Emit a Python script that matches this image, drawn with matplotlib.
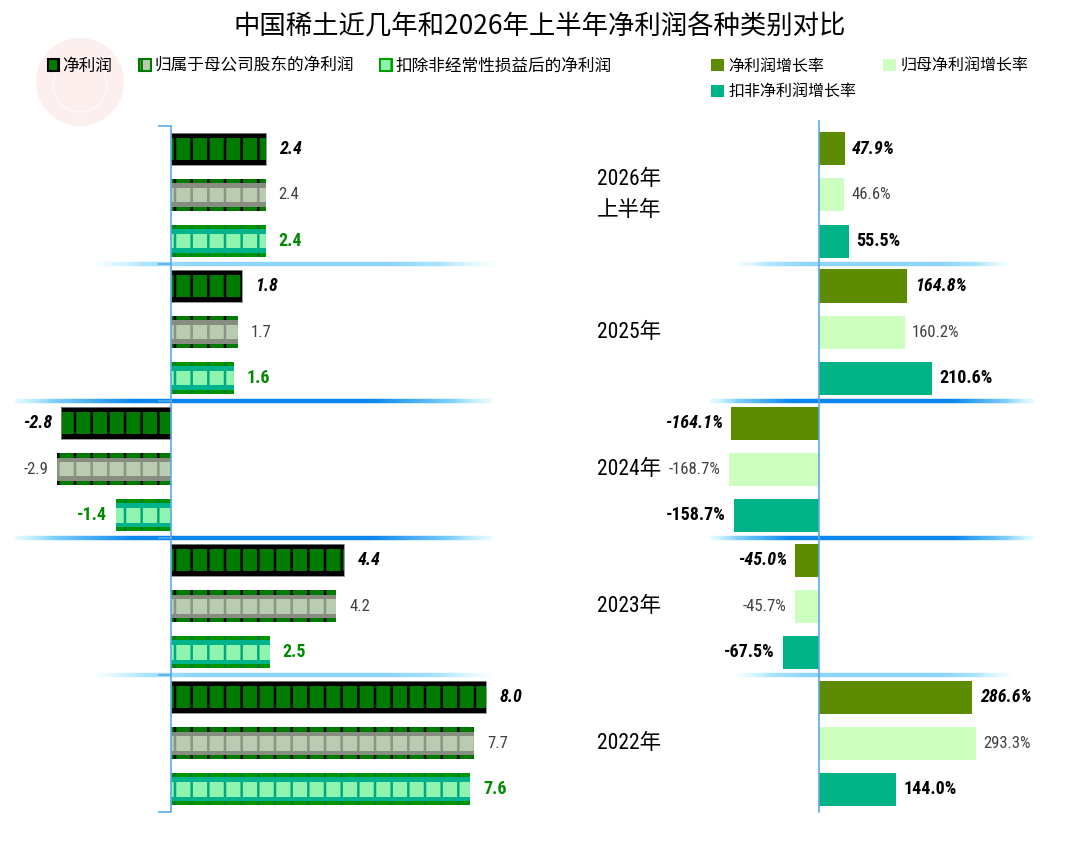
import numpy as np
import matplotlib
matplotlib.use("Agg")
import matplotlib.pyplot as plt
import matplotlib.transforms as mtransforms
from matplotlib import font_manager
from matplotlib.patches import Patch, Ellipse
from matplotlib.collections import LineCollection
from matplotlib.colors import to_rgba

plt.rcParams['font.family'] = ['Noto Sans CJK SC', 'DejaVu Sans']
plt.rcParams['hatch.linewidth'] = 1.8

# data
periods = ['2026年\n上半年', '2025年', '2024年', '2023年', '2022年']
net_profit = [2.4, 1.8, -2.8, 4.4, 8.0]
parent_profit = [2.4, 1.7, -2.9, 4.2, 7.7]
deducted_profit = [2.4, 1.6, -1.4, 2.5, 7.6]
net_growth = [47.9, 164.8, -164.1, -45.0, 286.6]
parent_growth = [46.6, 160.2, -168.7, -45.7, 293.3]
deducted_growth = [55.5, 210.6, -158.7, -67.5, 144.0]

profit_names = ['净利润', '归属于母公司股东的净利润', '扣除非经常性损益后的净利润']
growth_names = ['净利润增长率', '归母净利润增长率', '扣非净利润增长率']
growth_colors = ['#5e8c00', '#ccffc0', '#00b386']

# layered styles for the left bars: (height fraction, face, hatch colour)
layers = [
    [(1.0, '#000000', None), (0.70, '#007a00', '#000000')],
    [(1.0, '#007a00', '#000000'), (0.72, '#868e80', None), (0.46, '#b9cbb1', '#8b9585')],
    [(1.0, '#009400', '#007a30'), (0.74, '#00b38a', None), (0.46, '#8ef4b0', '#00a880')],
]

# pick a condensed font for the numbers if one is installed
installed = {f.name for f in font_manager.fontManager.ttflist}
narrow_font = 'Liberation Sans'
for cand in ['Liberation Sans Narrow', 'DejaVu Sans Condensed', 'Roboto Condensed']:
    if cand in installed:
        narrow_font = cand
        break
narrow = [narrow_font, 'Noto Sans CJK SC', 'DejaVu Sans']
num_size = 13 if 'Narrow' in narrow_font or 'Condensed' in narrow_font else 11

W, H = 1080, 843
fig = plt.figure(figsize=(W / 100, H / 100), dpi=100)

def px_axes(x0, y0, x1, y1):
    return fig.add_axes([x0 / W, 1 - y1 / H, (x1 - x0) / W, (y1 - y0) / H])

# group geometry (in group units)
offsets = [-0.336, 0.0, 0.336]
bar_h = 0.234
ylim = (4.56, -0.547)
pos = np.arange(len(periods))

def grad_line(ax, y, x0, x1, strong):
    xs = np.linspace(x0, x1, 300)
    segs = [[(xs[i], y), (xs[i + 1], y)] for i in range(len(xs) - 1)]
    t = np.linspace(0, 1, len(segs))
    edge = np.clip(np.minimum(t, 1 - t) / 0.25, 0, 1)
    cols = []
    for e in edge:
        if strong:
            c1, c2 = np.array(to_rgba('#b8f4ff')), np.array(to_rgba('#0a86ee'))
            c = c1 + (c2 - c1) * e
            c[3] = 0.35 + 0.65 * min(1, e * 3)
        else:
            c1, c2 = np.array(to_rgba('#c8f6ff')), np.array(to_rgba('#8fd4fb'))
            c = c1 + (c2 - c1) * e
            c[3] = 0.15 + 0.85 * min(1, e * 2)
        cols.append(c)
    ax.add_collection(LineCollection(segs, colors=cols, linewidths=3.2, zorder=1))

def label_style(k, right=False):
    if k == 0:
        return dict(fontweight='bold', fontstyle='italic', color='black', fontsize=num_size)
    if k == 1:
        return dict(color='#404040', fontsize=num_size - 1)
    return dict(fontweight='bold', color='black' if right else '#008a00', fontsize=num_size)

# ---------- left panel: profits ----------
axl = px_axes(15, 120, 560, 820)
kpx = 39.4
axl.set_xlim(-(171 - 15) / kpx, (560 - 171) / kpx)
axl.set_ylim(*ylim)
axl.axis('off')

for k, vals in enumerate([net_profit, parent_profit, deducted_profit]):
    y = pos + offsets[k]
    for frac, face, hc in layers[k]:
        axl.barh(y, vals, height=bar_h * frac, color=face, lw=0, zorder=3)
        if hc:
            axl.barh(y, vals, height=bar_h * frac, facecolor='none', edgecolor=hc,
                     hatch='|', lw=0, zorder=3)
    if k == 0:
        axl.barh(y, vals, height=bar_h, facecolor='none', edgecolor='#888888', lw=0.6, zorder=4)
    for yy, v in zip(y, vals):
        if v >= 0:
            axl.text(v + 0.33, yy, f'{v:.1f}', ha='left', va='center',
                     family=narrow, zorder=5, **label_style(k))
        else:
            axl.text(v - 0.22, yy, f'{v:.1f}', ha='right', va='center',
                     family=narrow, zorder=5, **label_style(k))

axl.plot([0, 0], [-0.5, 4.5], color='#5aaae6', lw=1.2, zorder=6, solid_capstyle='butt')
for b in np.arange(-0.5, 5.0, 1.0):
    axl.plot([-0.3, 0], [b, b], color='#5aaae6', lw=1.2, zorder=6)
for b in [0.5, 3.5]:
    grad_line(axl, b, (95 - 171) / kpx, (490 - 171) / kpx, False)
for b in [1.5, 2.5]:
    grad_line(axl, b, (13 - 171) / kpx, (492 - 171) / kpx, True)

# ---------- right panel: growth rates ----------
axr = px_axes(700, 120, 1040, 820)
kr = 0.535
axr.set_xlim(-(819 - 700) / kr, (1040 - 819) / kr)
axr.set_ylim(*ylim)
axr.axis('off')

for k, vals in enumerate([net_growth, parent_growth, deducted_growth]):
    y = pos + offsets[k]
    axr.barh(y, vals, height=bar_h * 1.03, color=growth_colors[k], lw=0, zorder=3)
    for yy, v in zip(y, vals):
        if v >= 0:
            axr.text(v + 14, yy, f'{v:.1f}%', ha='left', va='center',
                     family=narrow, zorder=5, **label_style(k, True))
        else:
            axr.text(v - 15, yy, f'{v:.1f}%', ha='right', va='center',
                     family=narrow, zorder=5, **label_style(k, True))

axr.plot([0, 0], [-0.54, 4.5], color='#5aaae6', lw=1.2, zorder=6)
for b in [0.5, 3.5]:
    grad_line(axr, b, (737 - 819) / kr, (1010 - 819) / kr, False)
for b in [1.5, 2.5]:
    grad_line(axr, b, (710 - 819) / kr, (1034 - 819) / kr, True)

# period labels
tr = mtransforms.blended_transform_factory(fig.transFigure, axr.transData)
for p, name in zip(pos, periods):
    axr.text(597 / W, p, name, transform=tr, ha='left', va='center', fontsize=15.5,
             family=narrow, linespacing=1.6, clip_on=False)

# watermark circle
fig.patches.append(Ellipse((80 / W, 1 - 82 / H), 88 / W, 88 / H, transform=fig.transFigure,
                           facecolor='#fdefed', edgecolor='none', zorder=0))
fig.patches.append(Ellipse((80 / W, 1 - 85 / H), 54 / W, 54 / H, transform=fig.transFigure,
                           facecolor='none', edgecolor='#fff8f7', lw=1.5, zorder=0))

# title
fig.text(540 / W, 1 - 27 / H, '中国稀土近几年和2026年上半年净利润各种类别对比',
         ha='center', va='center', fontsize=19)

# legends
left_handles = [Patch(facecolor='#007a00', edgecolor='#000000', hatch='|', lw=1.5),
                Patch(facecolor='#b9cbb1', edgecolor='#007a00', hatch='|', lw=1.5),
                Patch(facecolor='#8ef4b0', edgecolor='#00a000', hatch='|', lw=1.5)]
fig.legend(left_handles, profit_names, loc='center left', ncol=3,
           bbox_to_anchor=(41 / W, 1 - 66 / H), frameon=False, fontsize=12,
           handlelength=0.7, handleheight=0.7, handletextpad=0.2, columnspacing=1.6,
           borderaxespad=0)
order = [0, 2, 1]
right_handles = [Patch(facecolor=growth_colors[i], lw=0) for i in order]
fig.legend(right_handles, [growth_names[i] for i in order], loc='upper left', ncol=2,
           bbox_to_anchor=(705 / W, 1 - 51 / H), frameon=False, fontsize=11.5,
           handlelength=0.8, handleheight=0.8, handletextpad=0.25, columnspacing=1.7,
           labelspacing=0.55, borderaxespad=0)

fig.savefig('out.png', dpi=100)
